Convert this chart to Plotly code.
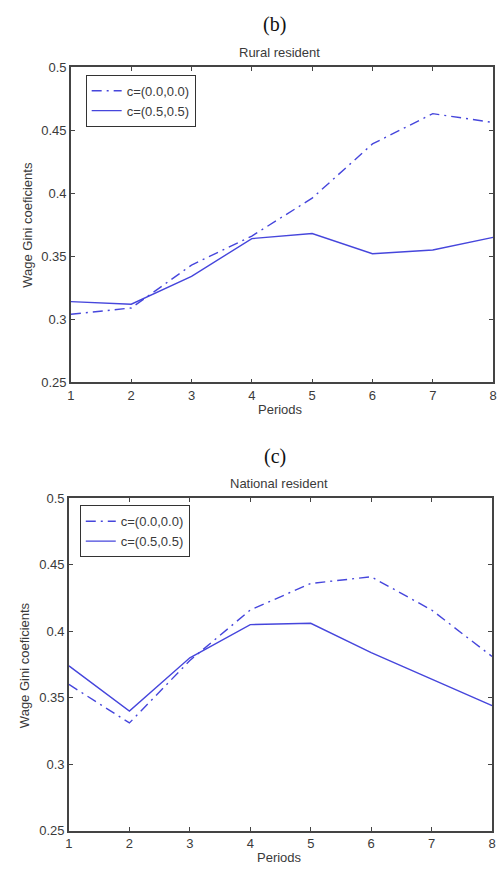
import plotly.graph_objects as go

W, H = 501, 872

periods = [1, 2, 3, 4, 5, 6, 7, 8]

# Rural resident wage Gini coefficients
rural_c00 = [0.304, 0.309, 0.343, 0.366, 0.396, 0.439, 0.463, 0.456]
rural_c05 = [0.314, 0.312, 0.334, 0.364, 0.368, 0.352, 0.355, 0.365]

# National resident wage Gini coefficients
national_c00 = [0.360, 0.331, 0.378, 0.416, 0.436, 0.441, 0.416, 0.381]
national_c05 = [0.374, 0.340, 0.380, 0.405, 0.406, 0.384, 0.364, 0.344]

series_names = ["c=(0.0,0.0)", "c=(0.5,0.5)"]
y_ticks = [0.25, 0.3, 0.35, 0.4, 0.45, 0.5]
y_tick_text = ["0.25", "0.3", "0.35", "0.4", "0.45", "0.5"]

LINE = "#4646dc"
AXIS = "#444444"
TEXT = "#3a3a3a"
DASHDOT = "10px,5px,2px,5px"
SANS = "Liberation Sans, Arial"


def px_x(x):
    return x / W


def px_y(y):
    return 1 - y / H


# plot boxes in pixels: (left, right, top, bottom)
boxes = {
    "top": (68, 497, 61, 382),
    "bot": (66, 496, 500, 838),
}

fig = go.Figure()

panels = [
    ("x", "y", "legend", rural_c00, rural_c05),
    ("x2", "y2", "legend2", national_c00, national_c05),
]

for xa, ya, leg, s0, s1 in panels:
    fig.add_trace(go.Scatter(
        x=periods, y=s0, mode="lines", name=series_names[0],
        line=dict(color=LINE, width=1.4, dash=DASHDOT),
        xaxis=xa, yaxis=ya, legend=leg,
    ))
    fig.add_trace(go.Scatter(
        x=periods, y=s1, mode="lines", name=series_names[1],
        line=dict(color=LINE, width=1.4),
        xaxis=xa, yaxis=ya, legend=leg,
    ))

axis_common = dict(
    showgrid=False, zeroline=False, showline=True, mirror="ticks",
    linecolor=AXIS, linewidth=1.5, ticks="inside", ticklen=4,
    tickcolor=AXIS, tickwidth=1,
    tickfont=dict(family=SANS, size=13, color=TEXT),
)

layout_axes = {}
for i, key in enumerate(["top", "bot"]):
    l, r, t, b = boxes[key]
    sfx = "" if i == 0 else "2"
    layout_axes["xaxis" + sfx] = dict(
        axis_common, domain=[px_x(l), px_x(r)], range=[1, 8],
        tickvals=periods, anchor="y" + sfx,
    )
    layout_axes["yaxis" + sfx] = dict(
        axis_common, domain=[px_y(b), px_y(t)], range=[0.25, 0.5],
        tickvals=y_ticks, ticktext=y_tick_text, anchor="x" + sfx,
    )

legend_style = dict(
    bgcolor="white", bordercolor="#333333", borderwidth=1,
    font=dict(family=SANS, size=13, color=TEXT),
    xanchor="left", yanchor="top", tracegroupgap=0,
    itemwidth=30,
)

fig.update_layout(
    width=W, height=H,
    margin=dict(l=0, r=0, t=0, b=0),
    paper_bgcolor="white", plot_bgcolor="white",
    showlegend=True,
    legend=dict(legend_style, x=px_x(83), y=px_y(69)),
    legend2=dict(legend_style, x=px_x(77), y=px_y(507)),
    **layout_axes,
)

ann_font = dict(family=SANS, size=13, color=TEXT)
serif_font = dict(family="Liberation Serif, Times New Roman", size=20, color="#111111")

annotations = [
    ("(b)", 275, 18, serif_font, 0),
    ("Rural resident", 280, 46, ann_font, 0),
    ("Periods", 281, 410, ann_font, 0),
    ("Wage Gini coeficients", 24, 222, ann_font, -90),
    ("(c)", 275, 457, serif_font, 0),
    ("National resident", 279, 485, ann_font, 0),
    ("Periods", 280, 865, ann_font, 0),
    ("Wage Gini coeficients", 21, 670, ann_font, -90),
]
for text, x, y, font, ang in annotations:
    fig.add_annotation(
        text=text, x=px_x(x), y=px_y(y), xref="paper", yref="paper",
        showarrow=False, font=font, textangle=ang,
        xanchor="center", yanchor="middle",
    )

fig.write_html("out.html")
